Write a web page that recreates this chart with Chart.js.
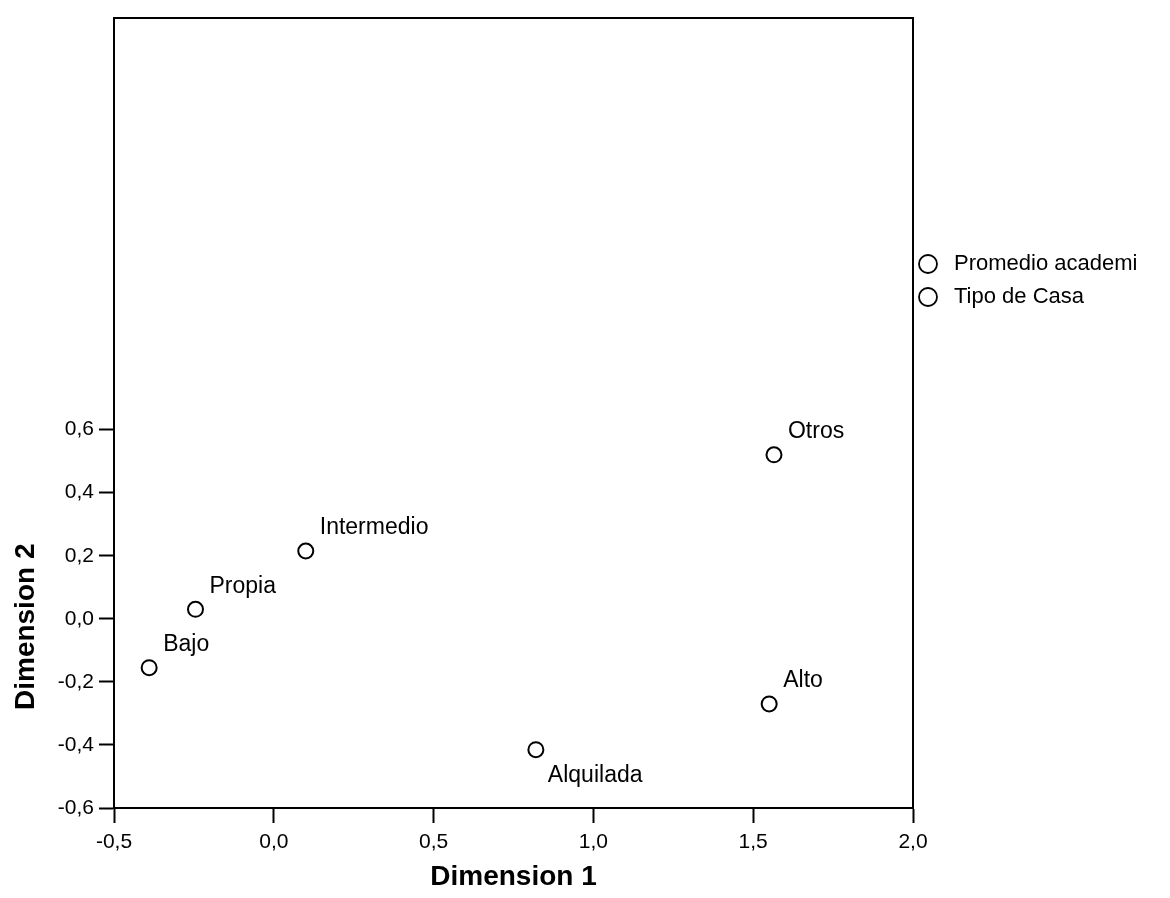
<!DOCTYPE html>
<html>
<head>
<meta charset="utf-8">
<script src="https://cdn.jsdelivr.net/npm/chart.js@4.4.0/dist/chart.umd.min.js"></script>
<style>
  html, body { margin: 0; padding: 0; background: #fff; }
  #wrap { width: 1170px; height: 898px; }
</style>
</head>
<body>
<div id="wrap"><canvas id="myChart" width="1170" height="898"></canvas></div>
<script>
// Promedio academico categories
const promedioLabels = ['Bajo', 'Intermedio', 'Alto'];
const promedioX = [-0.39, 0.10, 1.55];
const promedioY = [-0.155, 0.215, -0.27];

// Tipo de Casa categories
const casaLabels = ['Propia', 'Alquilada', 'Otros'];
const casaX = [-0.245, 0.82, 1.565];
const casaY = [0.03, -0.415, 0.52];

const seriesNames = ['Promedio academi', 'Tipo de Casa'];
const xTicks = [-0.5, 0.0, 0.5, 1.0, 1.5, 2.0];
const yTicks = [-0.6, -0.4, -0.2, 0.0, 0.2, 0.4, 0.6];

const FONT = '"Liberation Sans", Arial, Helvetica, sans-serif';
const fmt = v => v.toFixed(1).replace('.', ',').replace('-0,0', '0,0');

function toPoints(xs, ys) {
    return xs.map((x, i) => ({ x: x, y: ys[i] }));
}

// labels next to each point (Alquilada sits below its marker)
const pointLabels = {
    id: 'pointLabels',
    afterDatasetsDraw(chart) {
        const ctx = chart.ctx;
        const names = [promedioLabels, casaLabels];
        ctx.save();
        ctx.font = '23px ' + FONT;
        ctx.fillStyle = '#000';
        ctx.textAlign = 'left';
        ctx.textBaseline = 'middle';
        chart.data.datasets.forEach((ds, d) => {
            chart.getDatasetMeta(d).data.forEach((pt, i) => {
                const txt = names[d][i];
                if (txt === 'Alquilada') {
                    ctx.fillText(txt, pt.x + 12, pt.y + 26);
                } else {
                    ctx.fillText(txt, pt.x + 14, pt.y - 23);
                }
            });
        });
        ctx.restore();
    }
};

// frame, y title and the legend on the right
const decorations = {
    id: 'decorations',
    afterDraw(chart) {
        const ctx = chart.ctx;
        const a = chart.chartArea;
        const ys = chart.scales.y;
        ctx.save();
        ctx.strokeStyle = '#000';
        ctx.lineWidth = 2;
        ctx.strokeRect(a.left, a.top, a.right - a.left, a.bottom - a.top);

        // y title centred on the ticked range
        const midY = (ys.getPixelForValue(yTicks[0]) + ys.getPixelForValue(yTicks[yTicks.length - 1])) / 2 + 8;
        ctx.translate(26, midY);
        ctx.rotate(-Math.PI / 2);
        ctx.font = 'bold 28px ' + FONT;
        ctx.fillStyle = '#000';
        ctx.textAlign = 'center';
        ctx.textBaseline = 'middle';
        ctx.fillText('Dimension 2', 0, 0);
        ctx.restore();

        ctx.save();
        ctx.font = '22px ' + FONT;
        ctx.fillStyle = '#000';
        ctx.strokeStyle = '#000';
        ctx.lineWidth = 1.8;
        ctx.textBaseline = 'middle';
        seriesNames.forEach((name, i) => {
            const cy = 264 + i * 33;
            ctx.beginPath();
            ctx.arc(928, cy, 9, 0, Math.PI * 2);
            ctx.stroke();
            ctx.fillText(name, 954, cy);
        });
        ctx.restore();
    }
};

const pointStyle = {
    pointStyle: 'circle',
    pointRadius: 7.5,
    pointHoverRadius: 7.5,
    pointBorderWidth: 2,
    pointBackgroundColor: '#fff',
    pointBorderColor: '#000',
    showLine: false
};

new Chart(document.getElementById('myChart').getContext('2d'), {
    type: 'scatter',
    data: {
        datasets: [
            Object.assign({ label: seriesNames[0], data: toPoints(promedioX, promedioY) }, pointStyle),
            Object.assign({ label: seriesNames[1], data: toPoints(casaX, casaY) }, pointStyle)
        ]
    },
    options: {
        responsive: false,
        animation: false,
        layout: { padding: { top: 18, right: 257, left: 0, bottom: 0 } },
        plugins: {
            legend: { display: false },
            tooltip: { enabled: false }
        },
        scales: {
            x: {
                type: 'linear',
                min: xTicks[0],
                max: xTicks[xTicks.length - 1],
                afterBuildTicks: s => { s.ticks = xTicks.map(v => ({ value: v })); },
                afterFit: s => { s.height = 90; },
                border: { color: '#000', width: 2 },
                grid: { drawOnChartArea: false, drawTicks: true, tickLength: 15, tickWidth: 2, tickColor: '#000' },
                ticks: {
                    color: '#000',
                    padding: 7,
                    font: { family: FONT, size: 21 },
                    callback: v => fmt(v)
                },
                title: {
                    display: true,
                    text: 'Dimension 1',
                    color: '#000',
                    font: { family: FONT, size: 28, weight: 'bold' },
                    padding: { top: 0, bottom: 4 }
                }
            },
            y: {
                type: 'linear',
                min: -0.6,
                max: 1.905,
                afterBuildTicks: s => { s.ticks = yTicks.map(v => ({ value: v })); },
                afterFit: s => { s.width = 114; },
                border: { color: '#000', width: 2 },
                grid: { drawOnChartArea: false, drawTicks: true, tickLength: 15, tickWidth: 2, tickColor: '#000' },
                ticks: {
                    color: '#000',
                    padding: 5,
                    font: { family: FONT, size: 21 },
                    callback: v => fmt(v)
                }
            }
        }
    },
    plugins: [pointLabels, decorations]
});
</script>
</body>
</html>
